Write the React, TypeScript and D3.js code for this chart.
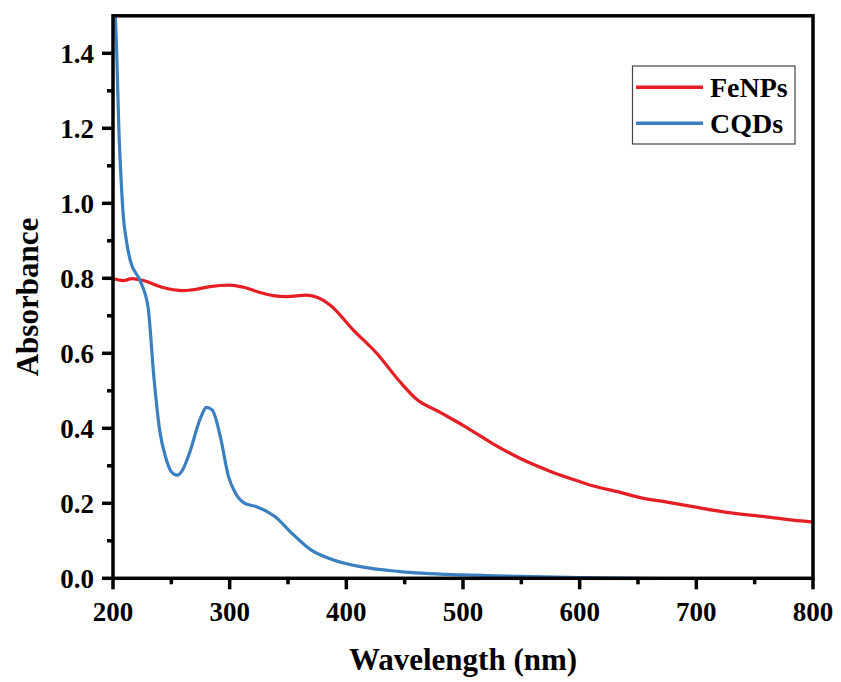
import React, { useEffect, useRef } from "react";
import * as d3 from "d3";

// FeNPs absorbance spectrum
const feWavelength = [200, 209, 216, 226, 242, 260, 272, 283, 300, 312, 326, 337, 349, 366, 376, 386, 406, 426, 446, 460, 480, 500, 525, 550, 575, 600, 612, 635, 652, 675, 697, 726, 760, 783, 800];
const feAbs = [0.800, 0.794, 0.799, 0.794, 0.776, 0.767, 0.771, 0.778, 0.782, 0.776, 0.762, 0.754, 0.751, 0.755, 0.748, 0.729, 0.662, 0.600, 0.524, 0.478, 0.443, 0.408, 0.360, 0.318, 0.285, 0.258, 0.246, 0.229, 0.215, 0.203, 0.191, 0.176, 0.164, 0.155, 0.150];

// CQDs absorbance spectrum
const cqdWavelength = [201, 203, 205, 207, 209, 211, 215, 223, 230, 235, 240, 245, 250, 255, 260, 265, 275, 280, 285, 292, 299, 305, 313, 323, 332, 339, 352, 370, 389, 412, 446, 500, 550, 600, 650, 700, 800];
const cqdAbs = [1.56, 1.42, 1.2, 1.06, 0.96, 0.91, 0.845, 0.795, 0.724, 0.538, 0.395, 0.324, 0.284, 0.275, 0.291, 0.329, 0.427, 0.456, 0.449, 0.378, 0.271, 0.227, 0.2, 0.191, 0.178, 0.164, 0.124, 0.075, 0.049, 0.031, 0.018, 0.009, 0.005, 0.002, 0.0, -0.002, -0.004];

const xMajor = [200, 300, 400, 500, 600, 700, 800];
const xMinor = [250, 350, 450, 550, 650, 750];
const yMajor = [0, 0.2, 0.4, 0.6, 0.8, 1.0, 1.2, 1.4];
const yMinor = [0.1, 0.3, 0.5, 0.7, 0.9, 1.1, 1.3];

const seriesNames = ["FeNPs", "CQDs"];
const seriesColors = ["#e41e24", "#3a7fbf"];

const App = () => {
  const ref = useRef<SVGSVGElement>(null);

  useEffect(() => {
    const svg = d3.select(ref.current);
    svg.selectAll("*").remove();

    const left = 113, right = 813, top = 15.8, bottom = 578.3;
    const font = "'Liberation Serif', 'Times New Roman', serif";

    const x = d3.scaleLinear().domain([200, 800]).range([left, right]);
    const y = d3.scaleLinear().domain([0, 1.5]).range([bottom, top]);

    svg.append("defs").append("clipPath").attr("id", "plotclip")
      .append("rect")
      .attr("x", left).attr("y", top)
      .attr("width", right - left).attr("height", bottom - top);

    const line = d3.line<[number, number]>()
      .x(d => x(d[0]))
      .y(d => y(d[1]))
      .curve(d3.curveMonotoneX);

    const series = [
      feWavelength.map((w, i) => [w, feAbs[i]] as [number, number]),
      cqdWavelength.map((w, i) => [w, cqdAbs[i]] as [number, number]),
    ];

    const plot = svg.append("g").attr("clip-path", "url(#plotclip)");
    series.forEach((s, i) => {
      plot.append("path")
        .datum(s)
        .attr("d", line)
        .attr("fill", "none")
        .attr("stroke", seriesColors[i])
        .attr("stroke-width", 3.2)
        .attr("stroke-linejoin", "round");
    });

    // frame
    svg.append("rect")
      .attr("x", left).attr("y", top)
      .attr("width", right - left).attr("height", bottom - top)
      .attr("fill", "none")
      .attr("stroke", "#000")
      .attr("stroke-width", 3.5);

    // bottom ticks
    const ax = svg.append("g");
    ax.selectAll(".xmaj").data(xMajor).enter().append("line")
      .attr("x1", d => x(d)).attr("x2", d => x(d))
      .attr("y1", bottom).attr("y2", bottom + 11)
      .attr("stroke", "#000").attr("stroke-width", 3.5);
    ax.selectAll(".xmin").data(xMinor).enter().append("line")
      .attr("x1", d => x(d)).attr("x2", d => x(d))
      .attr("y1", bottom).attr("y2", bottom + 6)
      .attr("stroke", "#000").attr("stroke-width", 3.5);
    ax.selectAll(".xlab").data(xMajor).enter().append("text")
      .attr("x", d => x(d)).attr("y", 621)
      .attr("text-anchor", "middle")
      .attr("font-family", font).attr("font-weight", "bold").attr("font-size", 27)
      .text(d => d3.format("d")(d));

    // left ticks
    const ay = svg.append("g");
    ay.selectAll(".ymaj").data(yMajor).enter().append("line")
      .attr("x1", left - 11).attr("x2", left)
      .attr("y1", d => y(d)).attr("y2", d => y(d))
      .attr("stroke", "#000").attr("stroke-width", 3.5);
    ay.selectAll(".ymin").data(yMinor).enter().append("line")
      .attr("x1", left - 6).attr("x2", left)
      .attr("y1", d => y(d)).attr("y2", d => y(d))
      .attr("stroke", "#000").attr("stroke-width", 3.5);
    ay.selectAll(".ylab").data(yMajor).enter().append("text")
      .attr("x", 94).attr("y", d => y(d))
      .attr("dy", "0.35em")
      .attr("text-anchor", "end")
      .attr("font-family", font).attr("font-weight", "bold").attr("font-size", 27)
      .text(d => d3.format(".1f")(d));

    // axis titles
    svg.append("text")
      .attr("x", (left + right) / 2).attr("y", 670)
      .attr("text-anchor", "middle")
      .attr("font-family", font).attr("font-weight", "bold").attr("font-size", 31)
      .text("Wavelength (nm)");
    svg.append("text")
      .attr("transform", `translate(38, ${(top + bottom) / 2}) rotate(-90)`)
      .attr("text-anchor", "middle")
      .attr("font-family", font).attr("font-weight", "bold").attr("font-size", 31)
      .text("Absorbance");

    // legend
    const lg = svg.append("g");
    lg.append("rect")
      .attr("x", 632.5).attr("y", 66)
      .attr("width", 162.5).attr("height", 78)
      .attr("fill", "#fff").attr("stroke", "#444").attr("stroke-width", 1.2);
    seriesNames.forEach((name, i) => {
      const ly = 87.3 + i * 36;
      lg.append("line")
        .attr("x1", 636).attr("x2", 703)
        .attr("y1", ly).attr("y2", ly)
        .attr("stroke", seriesColors[i]).attr("stroke-width", 3.5);
      lg.append("text")
        .attr("x", 710).attr("y", ly + 9.5)
        .attr("font-family", font).attr("font-weight", "bold").attr("font-size", 28)
        .text(name);
    });
  }, []);

  return (
    <svg
      ref={ref}
      width={841}
      height={682}
      style={{ position: "absolute", left: 0, top: 0, background: "#fff" }}
    ></svg>
  );
};

export default App;
